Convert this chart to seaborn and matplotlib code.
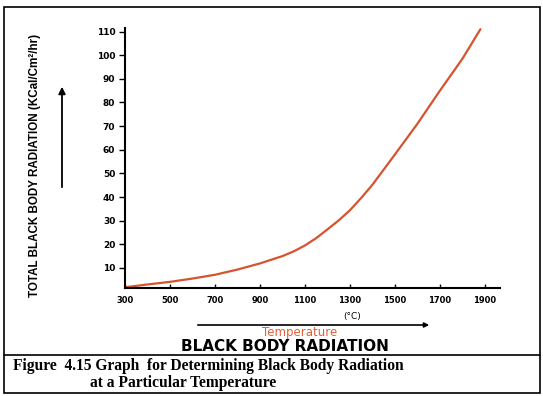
"""Black body radiation curve, redrawn from the scanned figure 4.15."""

import pandas as pd
import matplotlib
matplotlib.use('Agg')
import matplotlib.pyplot as plt
from matplotlib.patches import Rectangle, FancyArrowPatch
from matplotlib.lines import Line2D
import seaborn as sns

# values
temperature_c = [300, 400, 500, 600, 700, 800, 900, 1000, 1050, 1100, 1150, 1200,
                 1250, 1300, 1350, 1400, 1500, 1600, 1700, 1800, 1880]
radiation = [1.8, 3.0, 4.1, 5.5, 7.1, 9.3, 11.9, 15.0, 17.0, 19.5, 22.6, 26.3,
             30.1, 34.4, 39.6, 45.2, 58.0, 71.0, 85.0, 98.5, 111.0]

x_ticks = [300, 500, 700, 900, 1100, 1300, 1500, 1700, 1900]
y_ticks = [10, 20, 30, 40, 50, 60, 70, 80, 90, 100, 110]

CURVE_COLOR = '#d6532f'
W, H = 543, 396

sns.set_style("ticks")
plt.rcParams['font.family'] = ['Liberation Sans', 'DejaVu Sans']
plt.rcParams.update({'text.color': 'black', 'xtick.color': 'black',
                     'ytick.color': 'black', 'axes.edgecolor': 'black'})

fig = plt.figure(figsize=(W / 100, H / 100), dpi=100)
ax = fig.add_axes([125 / W, 1 - 288 / H, (500 - 125) / W, (288 - 28) / H])

df = pd.DataFrame({'temp': temperature_c, 'rad': radiation})
sns.lineplot(data=df, x='temp', y='rad', color=CURVE_COLOR, linewidth=1.6, ax=ax)

tick_font = ['DejaVu Sans']
ax.set_xlim(300, 1967)
ax.set_ylim(1.5, 111.5)
ax.set_xticks(x_ticks)
ax.set_yticks(y_ticks)
ax.set_xticklabels([str(t) for t in x_ticks], fontsize=6, fontweight='bold', family=tick_font)
ax.set_yticklabels([str(t) for t in y_ticks], fontsize=6.5, fontweight='bold', family=tick_font)
ax.tick_params(axis='x', direction='in', length=3, width=1, pad=6)
ax.tick_params(axis='y', direction='out', length=4, width=1, pad=3)
ax.set_xlabel('')
ax.set_ylabel('')
sns.despine(ax=ax)
for side in ('left', 'bottom'):
    ax.spines[side].set_linewidth(1.5)
    ax.spines[side].set_color('black')


def fx(px):
    return px / W


def fy(py):
    return 1 - py / H


# outer frame and caption separator
fig.add_artist(Rectangle((fx(4), fy(393)), fx(540) - fx(4), fy(7) - fy(393),
                         transform=fig.transFigure, fill=False,
                         edgecolor='black', linewidth=1.2))
fig.add_artist(Line2D([fx(4), fx(540)], [fy(355), fy(355)],
                      transform=fig.transFigure, color='black', linewidth=1.2))

# y axis label and arrow
fig.text(fx(35), fy(165), 'TOTAL BLACK BODY RADIATION (KCal/Cm²/hr)',
         rotation=90, ha='center', va='center', fontsize=8.4, fontweight='bold',
         family=['Liberation Sans Narrow', 'Liberation Sans', 'DejaVu Sans'])
fig.add_artist(FancyArrowPatch((fx(62), fy(190)), (fx(62), fy(84)),
                               transform=fig.transFigure, arrowstyle='-|>',
                               mutation_scale=10, color='black', linewidth=1.3))

# x axis annotations
fig.text(fx(352), fy(317), '(°C)', ha='center', va='center', fontsize=6.5,
         family=tick_font)
fig.add_artist(FancyArrowPatch((fx(195), fy(325)), (fx(432), fy(325)),
                               transform=fig.transFigure, arrowstyle='-|>',
                               mutation_scale=7, color='black', linewidth=1.2))
fig.text(fx(300), fy(336), 'Temperature', ha='center', va='baseline',
         fontsize=8.5, color='#e0603a', family=tick_font)
fig.text(fx(285), fy(351), 'BLACK BODY RADIATION', ha='center', va='baseline',
         fontsize=11, fontweight='bold', family=tick_font)

# caption
cap_font = ['Liberation Serif', 'DejaVu Serif']
fig.text(fx(13), fy(366), 'Figure  4.15 Graph  for Determining Black Body Radiation',
         ha='left', va='center', fontsize=11.2, fontweight='bold', family=cap_font)
fig.text(fx(90), fy(383), 'at a Particular Temperature',
         ha='left', va='center', fontsize=11.2, fontweight='bold', family=cap_font)

fig.savefig('out.png', dpi=100)
